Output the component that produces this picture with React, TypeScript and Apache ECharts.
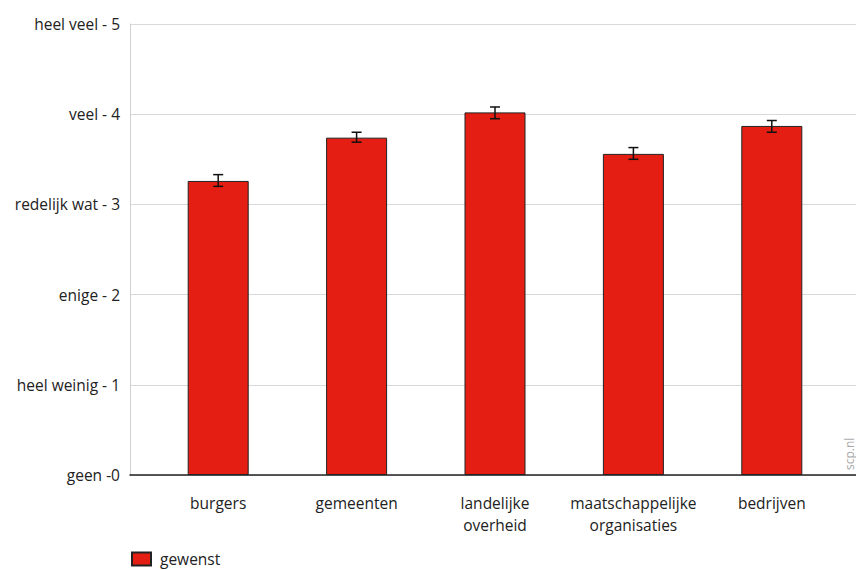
import React, { useEffect, useRef } from "react";
import * as echarts from "echarts";

const categories = ["burgers", "gemeenten", "landelijke\noverheid", "maatschappelijke\norganisaties", "bedrijven"];
const gewenst = [3.26, 3.74, 4.02, 3.56, 3.87];
const errLow = [3.2, 3.69, 3.95, 3.5, 3.8];
const errHigh = [3.33, 3.8, 4.08, 3.63, 3.93];
const yTickLabels = ["geen -0", "heel weinig - 1", "enige - 2", "redelijk wat - 3", "veel - 4", "heel veel - 5"];
const seriesName = "gewenst";

const FONT = "'Open Sans', Lato, sans-serif";

export default function App() {
  const ref = useRef<HTMLDivElement>(null);
  useEffect(() => {
    if (!ref.current) return;
    const chart = echarts.init(ref.current, null, { renderer: "svg" });
    const errData = categories.map((_, i) => [i, errLow[i], errHigh[i]]);
    chart.setOption({
      animation: false,
      textStyle: { fontFamily: FONT, color: "#333" },
      grid: [
        { left: 130, right: 0, top: 24, bottom: 95, containLabel: false },
        { left: 149, right: 15, top: 24, bottom: 95, containLabel: false },
      ],
      xAxis: [
        {
          gridIndex: 0,
          type: "category",
          data: [""],
          axisLine: { show: true, lineStyle: { color: "#222", width: 1.5 } },
          axisTick: { show: false },
          axisLabel: { show: false },
          splitLine: { show: false },
        },
        {
          gridIndex: 1,
          type: "category",
          data: categories,
          axisLine: { show: false },
          axisTick: { show: false },
          axisLabel: {
            show: true,
            color: "#222",
            fontSize: 15.5,
            fontFamily: FONT,
            lineHeight: 22,
            margin: 17,
            interval: 0,
          },
        },
      ],
      yAxis: [
        {
          gridIndex: 0,
          type: "value",
          min: 0,
          max: 5,
          interval: 1,
          axisLine: { show: true, lineStyle: { color: "#d0d0d0" } },
          axisTick: { show: false },
          axisLabel: {
            color: "#222",
            fontSize: 15.5,
            fontFamily: FONT,
            margin: 10,
            formatter: (v: number) => yTickLabels[Math.round(v)] ?? "",
          },
          splitLine: { show: true, lineStyle: { color: "#d9d9d9", width: 1 } },
        },
        {
          gridIndex: 1,
          type: "value",
          min: 0,
          max: 5,
          interval: 1,
          show: false,
        },
      ],
      legend: {
        left: 131,
        top: 551,
        padding: 0,
        icon: "rect",
        itemWidth: 19,
        itemHeight: 13,
        itemGap: 10,
        textStyle: { fontSize: 15.5, color: "#222", fontFamily: FONT, lineHeight: 16, padding: [0, 0, 0, 4] },
        data: [seriesName],
      },
      series: [
        {
          name: seriesName,
          type: "bar",
          xAxisIndex: 1,
          yAxisIndex: 1,
          data: gewenst,
          barWidth: 61,
          itemStyle: { color: "#e41e12", borderColor: "#222", borderWidth: 1 },
        },
        {
          type: "custom",
          xAxisIndex: 1,
          yAxisIndex: 1,
          data: errData,
          encode: { x: 0, y: [1, 2] },
          z: 5,
          renderItem: (params: any, api: any) => {
            const x = api.value(0);
            const lo = api.coord([x, api.value(1)]);
            const hi = api.coord([x, api.value(2)]);
            const hw = 5;
            const style = { stroke: "#111", lineWidth: 1.5 };
            return {
              type: "group",
              children: [
                { type: "line", shape: { x1: lo[0], y1: lo[1], x2: hi[0], y2: hi[1] }, style },
                { type: "line", shape: { x1: lo[0] - hw, y1: lo[1], x2: lo[0] + hw, y2: lo[1] }, style },
                { type: "line", shape: { x1: hi[0] - hw, y1: hi[1], x2: hi[0] + hw, y2: hi[1] }, style },
              ],
            };
          },
        },
      ],
      graphic: [
        {
          type: "text",
          x: 843,
          y: 470,
          rotation: Math.PI / 2,
          style: { text: "scp.nl", fill: "#aaa", fontSize: 12, fontFamily: FONT },
        },
      ],
    });
    return () => chart.dispose();
  }, []);
  return <div ref={ref} style={{ width: 856, height: 570, position: "absolute", left: 0, top: 0 }} />;
}
